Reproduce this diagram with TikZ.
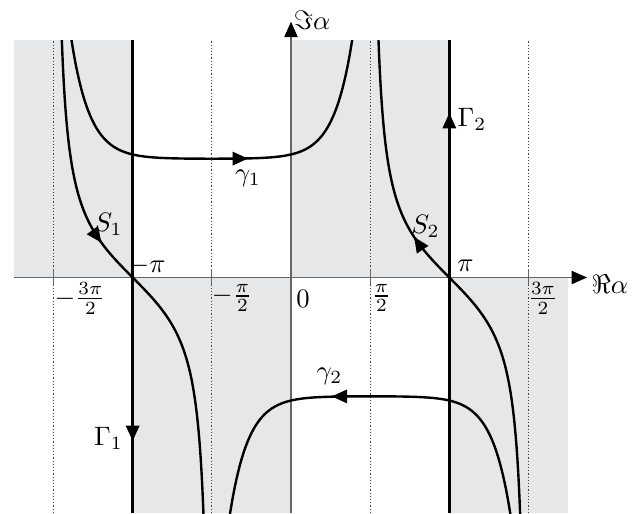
\documentclass[tikz,border=0pt]{standalone}
\usetikzlibrary{arrows.meta}
\definecolor{shadegray}{RGB}{230,231,233}
\begin{document}
\begin{tikzpicture}[x=0.375pt,y=0.375pt,
  curve/.style={line width=0.9pt, black},
  axisline/.style={line width=0.45pt, black!60},
  dotline/.style={line width=0.45pt, black!75, dash pattern=on 0.45pt off 0.75pt},
  tipped/.style={-{Triangle[length=5.8pt,width=5pt,color=black]}},
  lab/.style={inner sep=0pt}
]
\useasboundingbox (-291,-235.5) rectangle (353,277.5);
% shaded regions
\fill[shadegray] (-277.1,0) rectangle (-158.34,237.5);
\fill[shadegray] (0,0) rectangle (158.34,237.5);
\fill[shadegray] (-158.34,-235.5) rectangle (0,0);
\fill[shadegray] (158.34,-235.5) rectangle (277.1,0);
% dotted lines
\foreach \k in {-3,-1,1,3} \draw[dotline] (\k*79.17,-235.5) -- (\k*79.17,237.5);
% axes
\coordinate (xl) at (-277.1,0);
\coordinate (xr) at (296,0);
\coordinate (yb) at (0,-235.5);
\coordinate (yt) at (0,255.8);
\draw[axisline, tipped] (xl) -- (xr);
\draw[axisline, tipped] (yb) -- (yt);
\foreach \k in {-3,-1,0,1,3} \draw[axisline] (\k*79.17,-7) -- (\k*79.17,9);
\node[lab, anchor=west] (re) at (300,-6.5) {$\Re\alpha$};
\node[lab] (im) at (21,257.5) {$\Im\alpha$};
% Gamma lines
\coordinate (g1t) at (-158.34,237.5);
\coordinate (g1b) at (-158.34,-235.5);
\coordinate (g1a) at (-158.34,-150);
\coordinate (g1h) at (-158.34,-163.5);
\coordinate (g2t) at (158.34,237.5);
\coordinate (g2b) at (158.34,-235.5);
\coordinate (g2a) at (158.34,150);
\coordinate (g2h) at (158.34,164.5);
\draw[curve] (g1t) -- (g1b);
\draw[curve] (g2t) -- (g2b);
\draw[curve, tipped] (g1a) -- (g1h);
\draw[curve, tipped] (g2a) -- (g2h);
% curves
\begin{scope}
\clip (-277.1,-235.5) rectangle (277.1,237.5);
\foreach \s in {-1,1}
  \draw[curve, variable=\u, domain=-1.42:1.42, samples=220]
    plot ({(\s*pi+\u)*50.4}, {-36.2*tan(\u r)-14.5*\u});
\draw[curve, variable=\d, domain=-142:142, samples=300]
  plot ({-79.17+\d}, {118.8+0.1206*(cosh(\d/18.5)-1)});
\draw[curve, variable=\d, domain=-142:142, samples=300]
  plot ({79.17+\d}, {-118.8-0.1206*(cosh(\d/18.5)-1)});
\end{scope}
% arrows on curves
\draw[curve, tipped, variable=\u, domain=-0.72:-0.62, samples=6]
  plot ({(-pi+\u)*50.4}, {-36.2*tan(\u r)-14.5*\u});
\draw[curve, tipped, variable=\v, domain=0.60:0.70, samples=6]
  plot ({(pi-\v)*50.4}, {36.2*tan(\v r)+14.5*\v});
\coordinate (c1a) at (-56,118.9);
\coordinate (c1h) at (-43,118.9);
\coordinate (c2a) at (54,-118.9);
\coordinate (c2h) at (40.7,-118.9);
\draw[curve, tipped] (c1a) -- (c1h);
\draw[curve, tipped] (c2a) -- (c2h);
% labels
\node[lab] (lg1) at (-43,99.5) {$\gamma_1$};
\node[lab] (lg2) at (38.5,-99) {$\gamma_2$};
\node[lab] (ls1) at (-182.5,53) {$S_1$};
\node[lab] (ls2) at (134.5,51) {$S_2$};
\node[lab] (lG1) at (-182.5,-160.5) {$\Gamma_1$};
\node[lab] (lG2) at (181,158) {$\Gamma_2$};
\node[lab] (lmp) at (-144,11.5) {$-\pi$};
\node[lab] (lpp) at (174.5,11.5) {$\pi$};
\node[lab] (lm3) at (-211,-21) {$-\frac{3\pi}{2}$};
\node[lab] (lm1) at (-59,-20.5) {$-\frac{\pi}{2}$};
\node[lab] (lz) at (12,-21) {$0$};
\node[lab] (lp1) at (90.5,-20.5) {$\frac{\pi}{2}$};
\node[lab] (lp3) at (252,-21) {$\frac{3\pi}{2}$};
\end{tikzpicture}
\end{document}
